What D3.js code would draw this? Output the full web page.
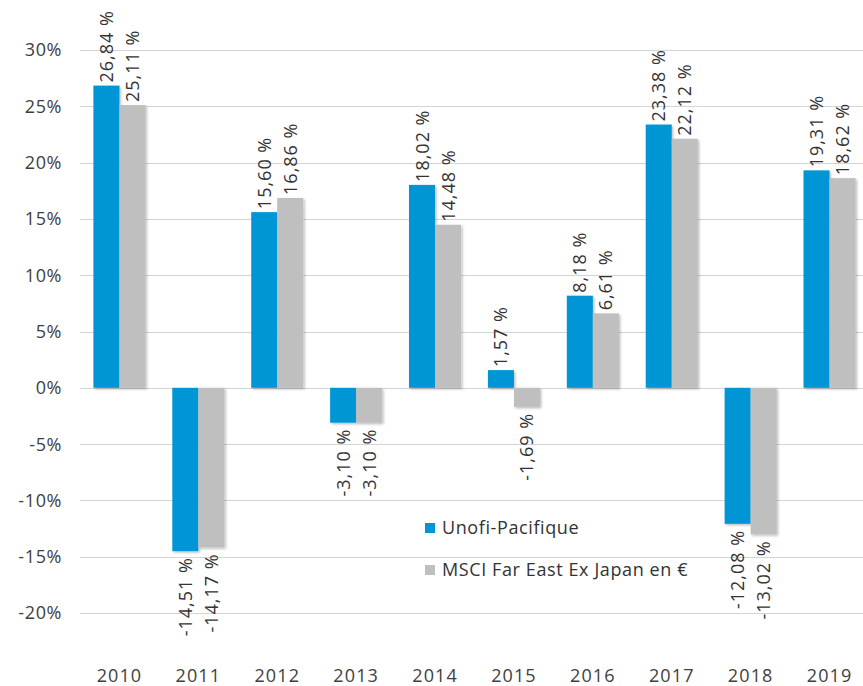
<!DOCTYPE html>
<html>
<head>
<meta charset="utf-8">
<script src="https://cdn.jsdelivr.net/npm/d3@7"></script>
<style>
  body { margin: 0; background: #fff; }
  svg { display: block; font-family: "Open Sans", "Segoe UI", sans-serif; }
</style>
</head>
<body>
<div id="chart"></div>
<script>
// data
var years = ["2010", "2011", "2012", "2013", "2014", "2015", "2016", "2017", "2018", "2019"];
var seriesNames = ["Unofi-Pacifique", "MSCI Far East Ex Japan en €"];
var unofi = [26.84, -14.51, 15.60, -3.10, 18.02, 1.57, 8.18, 23.38, -12.08, 19.31];
var msci = [25.11, -14.17, 16.86, -3.10, 14.48, -1.69, 6.61, 22.12, -13.02, 18.62];
var yTicks = [-20, -15, -10, -5, 0, 5, 10, 15, 20, 25, 30];
var colors = ["#0096d6", "#bfbfbf"];

var width = 863, height = 686;

var svg = d3.select("#chart")
  .append("svg")
  .attr("width", width)
  .attr("height", height);

// soft shadow under the bars
var defs = svg.append("defs");
defs.append("filter")
  .attr("id", "shadow")
  .attr("x", "-20%").attr("y", "-20%").attr("width", "150%").attr("height", "150%")
  .append("feDropShadow")
  .attr("dx", 1.5).attr("dy", 1.5).attr("stdDeviation", 1.2)
  .attr("flood-color", "#000").attr("flood-opacity", 0.25);

var x0 = d3.scaleBand()
  .domain(years)
  .range([80, 869])
  .paddingInner(0.34)
  .paddingOuter(0.17);

var x1 = d3.scaleBand()
  .domain(seriesNames)
  .range([0, x0.bandwidth()]);

var y = d3.scaleLinear()
  .domain([-20, 30])
  .range([613, 50]);

// grid lines
svg.append("g")
  .selectAll("line")
  .data(yTicks)
  .enter()
  .append("line")
  .attr("x1", 80)
  .attr("x2", width)
  .attr("y1", function(d) { return Math.round(y(d)) + 0.5; })
  .attr("y2", function(d) { return Math.round(y(d)) + 0.5; })
  .attr("stroke", "#d4d4d4")
  .attr("stroke-width", 1);

// y axis labels
svg.append("g")
  .selectAll("text")
  .data(yTicks)
  .enter()
  .append("text")
  .attr("x", 62)
  .attr("y", function(d) { return y(d); })
  .attr("dy", "0.36em")
  .attr("text-anchor", "end")
  .attr("font-size", 18)
  .attr("letter-spacing", 0.6)
  .attr("fill", "#404040")
  .text(function(d) { return d + "%"; });

// x axis labels
svg.append("g")
  .selectAll("text")
  .data(years)
  .enter()
  .append("text")
  .attr("x", function(d) { return x0(d) + x0.bandwidth() / 2; })
  .attr("y", 682)
  .attr("text-anchor", "middle")
  .attr("font-size", 18)
  .attr("letter-spacing", 1.1)
  .attr("fill", "#404040")
  .text(function(d) { return d; });

// rows: one per year with both series
var rows = years.map(function(yr, i) {
  return { year: yr, values: [
    { name: seriesNames[0], value: unofi[i], color: colors[0] },
    { name: seriesNames[1], value: msci[i], color: colors[1] }
  ]};
});

var groups = svg.append("g")
  .selectAll("g")
  .data(rows)
  .enter()
  .append("g")
  .attr("transform", function(d) { return "translate(" + x0(d.year) + ",0)"; });

groups.selectAll("rect")
  .data(function(d) { return d.values; })
  .enter()
  .append("rect")
  .attr("x", function(d) { return x1(d.name); })
  .attr("width", x1.bandwidth())
  .attr("y", function(d) { return y(Math.max(0, d.value)); })
  .attr("height", function(d) { return Math.abs(y(d.value) - y(0)); })
  .attr("fill", function(d) { return d.color; })
  .attr("filter", "url(#shadow)");

// value labels, rotated
var fmt = function(v) { return d3.format(".2f")(v).replace(".", ",").replace("−", "-") + " %"; };

groups.selectAll("text")
  .data(function(d) { return d.values; })
  .enter()
  .append("text")
  .attr("transform", function(d) {
    var cx = x1(d.name) + x1.bandwidth() / 2;
    var cy = d.value >= 0 ? y(d.value) - 3 : y(d.value) + 6;
    return "translate(" + cx + "," + cy + ") rotate(-90)";
  })
  .attr("dy", "0.36em")
  .attr("text-anchor", function(d) { return d.value >= 0 ? "start" : "end"; })
  .attr("font-size", 18)
  .attr("letter-spacing", 1)
  .attr("fill", "#333")
  .text(function(d) { return fmt(d.value); });

// legend
var legend = svg.append("g")
  .attr("transform", "translate(425,523)");

var items = legend.selectAll("g")
  .data(seriesNames)
  .enter()
  .append("g")
  .attr("transform", function(d, i) { return "translate(0," + (i * 42) + ")"; });

items.append("rect")
  .attr("width", 10)
  .attr("height", 10)
  .attr("fill", function(d, i) { return colors[i]; });

items.append("text")
  .attr("x", 17)
  .attr("y", 5)
  .attr("dy", "0.36em")
  .attr("font-size", 18)
  .attr("letter-spacing", 0.6)
  .attr("fill", "#333")
  .text(function(d) { return d; });
</script>
</body>
</html>
